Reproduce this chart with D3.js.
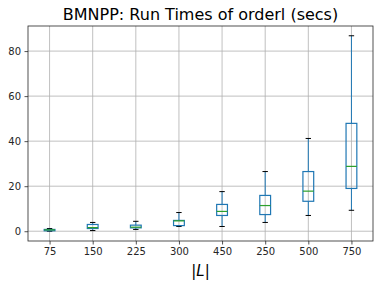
<!DOCTYPE html>
<html>
<head>
<meta charset="utf-8">
<script src="https://cdn.jsdelivr.net/npm/d3@7"></script>
<style>
  body { margin: 0; background: #fff; }
  svg { display: block; font-family: "DejaVu Sans", sans-serif; }
</style>
</head>
<body>
<svg id="chart" width="379" height="287"></svg>
<script>
const categories = ['75', '150', '225', '300', '450', '250', '500', '750'];
const whiskerLow = [0.0, 0.3, 0.8, 2.1, 2.1, 3.9, 7.0, 9.3];
const q1 = [0.2, 1.2, 1.5, 2.5, 7.0, 7.4, 13.3, 19.0];
const medians = [0.6, 1.6, 1.8, 4.6, 8.8, 11.4, 17.8, 28.8];
const q3 = [0.8, 3.0, 2.7, 4.8, 11.9, 15.9, 26.5, 47.9];
const whiskerHigh = [1.2, 3.9, 4.4, 8.3, 17.6, 26.5, 41.2, 86.8];
const yTicks = [0, 20, 40, 60, 80];

const margin = { top: 26, right: 6, bottom: 46, left: 28 };
const width = 379, height = 287;

const svg = d3.select('#chart');

const x = d3.scaleLinear()
    .domain([0.5, categories.length + 0.5])
    .range([margin.left, width - margin.right]);
const y = d3.scaleLinear()
    .domain([-4.34, 91.14])
    .range([height - margin.bottom, margin.top]);

const band = x(1.5) - x(1);
const boxW = band * 0.5;
const capW = band * 0.25;

// grid
svg.append('g')
    .selectAll('line.gy')
    .data(yTicks)
    .join('line')
    .attr('x1', margin.left).attr('x2', width - margin.right)
    .attr('y1', d => y(d)).attr('y2', d => y(d))
    .attr('stroke', '#b0b0b0').attr('stroke-width', 0.8);
svg.append('g')
    .selectAll('line.gx')
    .data(categories)
    .join('line')
    .attr('x1', (d, i) => x(i + 1)).attr('x2', (d, i) => x(i + 1))
    .attr('y1', margin.top).attr('y2', height - margin.bottom)
    .attr('stroke', '#b0b0b0').attr('stroke-width', 0.8);

// boxes
const data = categories.map((c, i) => ({
    c, i, lo: whiskerLow[i], q1: q1[i], med: medians[i], q3: q3[i], hi: whiskerHigh[i]
}));

const g = svg.append('g').selectAll('g.box').data(data).join('g');

g.append('line')
    .attr('x1', d => x(d.i + 1)).attr('x2', d => x(d.i + 1))
    .attr('y1', d => y(d.lo)).attr('y2', d => y(d.q1))
    .attr('stroke', '#1f77b4').attr('stroke-width', 1);
g.append('line')
    .attr('x1', d => x(d.i + 1)).attr('x2', d => x(d.i + 1))
    .attr('y1', d => y(d.q3)).attr('y2', d => y(d.hi))
    .attr('stroke', '#1f77b4').attr('stroke-width', 1);
g.append('line')
    .attr('x1', d => x(d.i + 1) - capW / 2).attr('x2', d => x(d.i + 1) + capW / 2)
    .attr('y1', d => y(d.lo)).attr('y2', d => y(d.lo))
    .attr('stroke', '#000').attr('stroke-width', 1);
g.append('line')
    .attr('x1', d => x(d.i + 1) - capW / 2).attr('x2', d => x(d.i + 1) + capW / 2)
    .attr('y1', d => y(d.hi)).attr('y2', d => y(d.hi))
    .attr('stroke', '#000').attr('stroke-width', 1);
g.append('rect')
    .attr('x', d => x(d.i + 1) - boxW / 2)
    .attr('width', boxW)
    .attr('y', d => y(d.q3))
    .attr('height', d => y(d.q1) - y(d.q3))
    .attr('fill', 'none').attr('stroke', '#1f77b4').attr('stroke-width', 1.2);
g.append('line')
    .attr('x1', d => x(d.i + 1) - boxW / 2).attr('x2', d => x(d.i + 1) + boxW / 2)
    .attr('y1', d => y(d.med)).attr('y2', d => y(d.med))
    .attr('stroke', '#2ca02c').attr('stroke-width', 1.2);

// axes
const xAxis = d3.axisBottom(x)
    .tickValues(categories.map((c, i) => i + 1))
    .tickFormat((d, i) => categories[i])
    .tickSize(3.5).tickPadding(3.5);
const yAxis = d3.axisLeft(y)
    .tickValues(yTicks)
    .tickSize(3.5).tickPadding(3.5);

const gx = svg.append('g')
    .attr('transform', `translate(0,${height - margin.bottom})`)
    .call(xAxis);
const gy = svg.append('g')
    .attr('transform', `translate(${margin.left},0)`)
    .call(yAxis);
[gx, gy].forEach(a => {
    a.select('.domain').remove();
    a.selectAll('text').attr('font-size', 10).attr('fill', '#262626')
        .attr('font-family', '"DejaVu Sans", sans-serif');
    a.selectAll('line').attr('stroke', '#262626').attr('stroke-width', 0.8);
});

// frame
svg.append('rect')
    .attr('x', margin.left).attr('y', margin.top)
    .attr('width', width - margin.left - margin.right)
    .attr('height', height - margin.top - margin.bottom)
    .attr('fill', 'none').attr('stroke', '#262626').attr('stroke-width', 0.8);

// title and label
svg.append('text')
    .attr('x', (margin.left + width - margin.right) / 2)
    .attr('y', margin.top - 6)
    .attr('text-anchor', 'middle')
    .attr('font-size', 16)
    .attr('fill', '#000')
    .text('BMNPP: Run Times of orderl (secs)');
const xl = svg.append('text')
    .attr('x', (margin.left + width - margin.right) / 2)
    .attr('y', height - 11)
    .attr('text-anchor', 'middle')
    .attr('font-size', 15)
    .attr('font-family', '"DejaVu Sans", sans-serif')
    .attr('fill', '#000');
xl.append('tspan').text('|');
xl.append('tspan').attr('font-style', 'italic').text('L');
xl.append('tspan').text('|');
</script>
</body>
</html>
